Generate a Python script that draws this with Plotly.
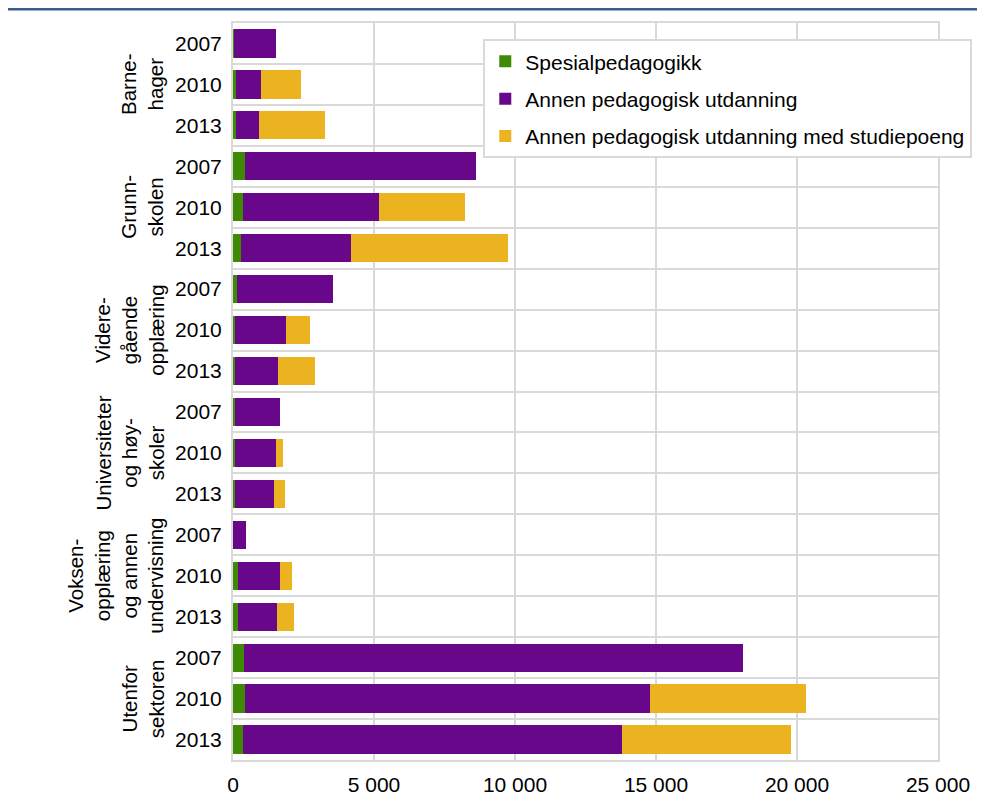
import plotly.graph_objects as go

# Sectors (group labels) and years shown for each sector
groups = ["Barne-<br>hager", "Grunn-<br>skolen", "Videre-<br>gående<br>opplæring",
          "Universiteter<br>og høy-<br>skoler", "Voksen-<br>opplæring<br>og annen<br>undervisning",
          "Utenfor<br>sektoren"]
years = ["2007", "2010", "2013"]

# Stacked segment values, row order: group by group, 2007/2010/2013
spesial = [40, 95, 95, 420, 365, 280, 140, 80, 70, 70, 70, 60, 0, 175, 175, 376, 410, 340]
annen = [1490, 885, 825, 8200, 4825, 3910, 3405, 1790, 1530, 1600, 1450, 1400,
         450, 1485, 1380, 17720, 14390, 13470]
studiepoeng = [0, 1420, 2330, 0, 3030, 5560, 0, 850, 1300, 0, 270, 380,
               0, 440, 605, 0, 5530, 5990]

series = [
    ("Spesialpedagogikk", spesial, "#3F8A04"),
    ("Annen pedagogisk utdanning", annen, "#69078A"),
    ("Annen pedagogisk utdanning med studiepoeng", studiepoeng, "#EBB31F"),
]

row_labels = [y for _ in groups for y in years]
rows = list(range(len(row_labels)))
grid = "#D9D9D9"
font = "Liberation Sans, Arial, sans-serif"

fig = go.Figure()
for i, (name, vals, color) in enumerate(series):
    fig.add_trace(go.Bar(
        x=vals, y=rows, orientation="h", name=name, width=0.69,
        marker=dict(color=color, line=dict(width=0)),
        legendgroup=f"g{i}"
    ))

# Group labels, rotated, to the left of the year labels
for gi, g in enumerate(groups):
    fig.add_annotation(
        x=-0.09, xref="paper", xanchor="right",
        y=gi * len(years) + 1, yref="y", yanchor="middle",
        text=g, textangle=-90, showarrow=False, align="center",
        font=dict(size=20.5, color="black", family=font)
    )

# Dark blue rule at the top
fig.add_shape(type="line", xref="paper", yref="paper",
              x0=-0.32, x1=1.08, y0=1.019, y1=1.019,
              line=dict(color="#3F5B8C", width=3))

fig.update_layout(
    width=985, height=805,
    barmode="stack",
    plot_bgcolor="white", paper_bgcolor="white",
    margin=dict(l=225, r=55, t=15, b=53),
    font=dict(family=font, size=21, color="black"),
    separators=", ",
    legend=dict(x=0.355, y=0.978, xanchor="left", yanchor="top",
                bgcolor="white", bordercolor=grid, borderwidth=2,
                font=dict(size=21), tracegroupgap=7, traceorder="grouped",
                itemwidth=30),
    xaxis=dict(range=[0, 25000], dtick=5000, tickformat=",d",
               showgrid=True, gridcolor=grid, gridwidth=2,
               zeroline=False, showline=True, linecolor=grid, linewidth=2, mirror=True,
               ticks="", ticklabelstandoff=5, fixedrange=True),
    yaxis=dict(range=[len(rows) - 0.5, -0.5], tickmode="array", tickvals=rows,
               ticktext=row_labels, showgrid=False, zeroline=False,
               showline=True, linecolor=grid, linewidth=2, mirror=True,
               ticks="", ticklabelstandoff=5,
               minor=dict(tickmode="linear", tick0=0.5, dtick=1, showgrid=True,
                          gridcolor=grid, gridwidth=2, ticks="")),
)

fig.write_html("out.html")
